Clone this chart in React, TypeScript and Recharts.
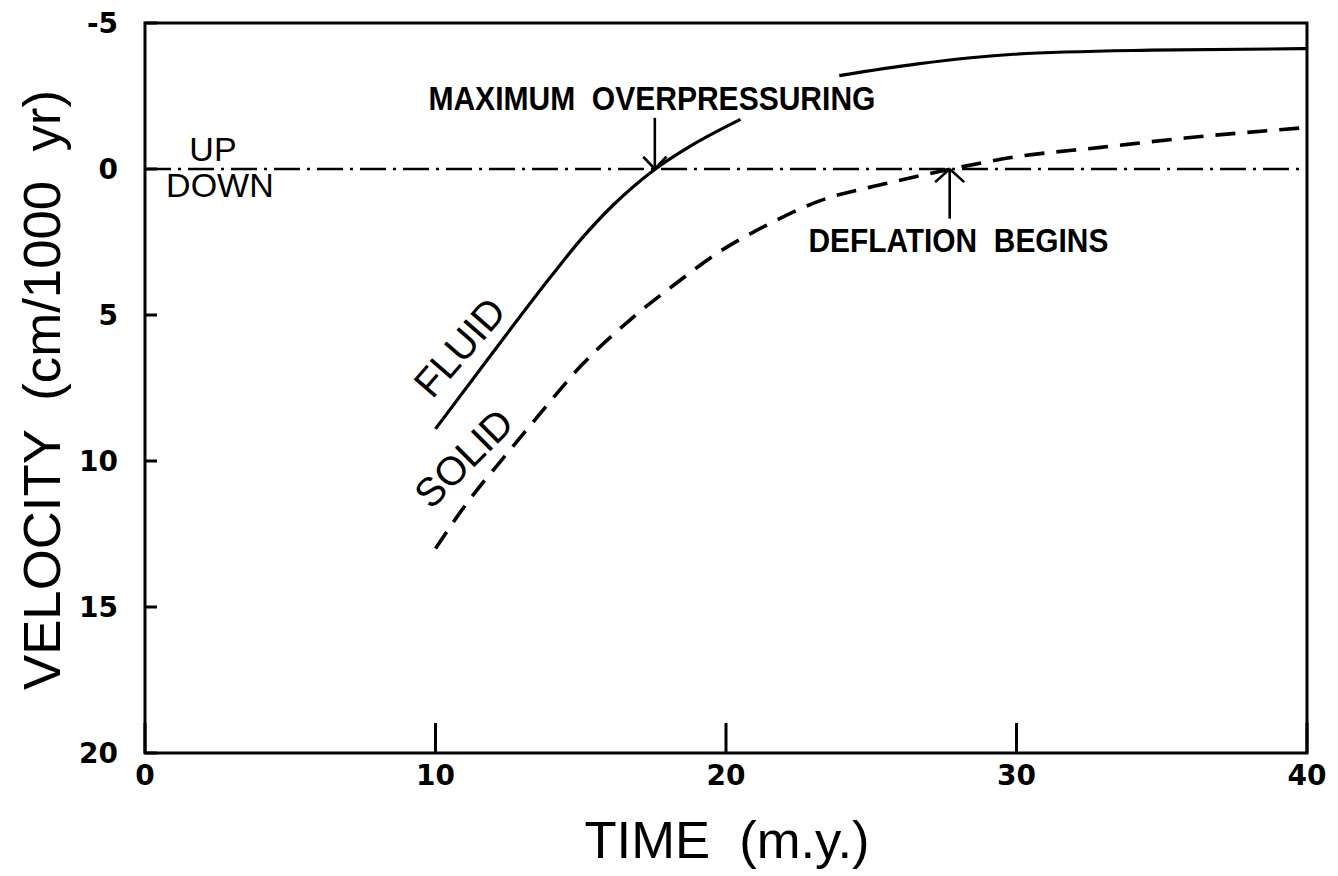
import React from "react";
import {
  LineChart,
  Line,
  XAxis,
  YAxis,
  ReferenceLine,
  ReferenceDot,
  ReferenceArea,
} from "recharts";

// axis ticks
const timeTicks = [0, 10, 20, 30, 40];
const innerTimeTicks = [10, 20, 30];
const velocityTicks = [-5, 0, 5, 10, 15, 20];
const innerVelocityTicks = [5, 10, 15];

// FLUID curve, part below the "maximum overpressuring" label
const fluidTime = [10, 12, 14, 15, 16.1, 17.5, 18.8, 20.5];
const fluidVelocity = [8.9, 6.25, 3.65, 2.42, 1.25, 0.05, -0.8, -1.7];

// FLUID curve, part after the label
const fluidUpperTime = [23.9, 26.6, 29.9, 34.6, 40];
const fluidUpperVelocity = [-3.2, -3.6, -3.93, -4.07, -4.12];

// SOLID curve (dashed)
const solidTime = [10, 11, 12.5, 13.5, 15, 16.8, 18.25, 19.75, 21.35, 23.2, 25.5, 27.75, 30, 32.9, 35.8, 40];
const solidVelocity = [13.0, 11.55, 9.7, 8.5, 6.75, 5.08, 3.94, 2.85, 1.95, 1.1, 0.5, 0.0, -0.42, -0.74, -1.06, -1.42];

const toPoints = (ts: number[], vs: number[]) =>
  ts.map((t, i) => ({ time: t, velocity: vs[i] }));

const fluidLower = toPoints(fluidTime, fluidVelocity);
const fluidUpper = toPoints(fluidUpperTime, fluidUpperVelocity);
const solid = toPoints(solidTime, solidVelocity);

const INK = "#000";
const tickFont = {
  fill: INK,
  fontSize: 28,
  fontFamily: "DejaVu Sans",
  fontWeight: 700,
};
const tickStroke = { stroke: INK, strokeWidth: 3 };

// text placed at a data point through a ReferenceDot
function note(text: string, size: number, weight: number, len?: number, angle = 0) {
  return (p: any) => (
    <text
      x={p.cx}
      y={p.cy}
      textAnchor="middle"
      dominantBaseline="central"
      fontSize={size}
      fontWeight={weight}
      fontFamily="Liberation Sans"
      fill={INK}
      textLength={len}
      lengthAdjust={len ? "spacingAndGlyphs" : undefined}
      style={{ whiteSpace: "pre" }}
      transform={angle ? `rotate(${angle} ${p.cx} ${p.cy})` : undefined}
    >
      {text}
    </text>
  );
}

type Seg = [number, number, number, number];
const arrowSegs: Seg[] = [
  // maximum overpressuring (down arrow)
  [17.55, -1.75, 17.55, 0],
  [17.15, -0.42, 17.55, 0],
  [17.95, -0.42, 17.55, 0],
  // deflation begins (up arrow)
  [27.7, 1.7, 27.7, 0],
  [27.2, 0.45, 27.7, 0],
  [28.2, 0.45, 27.7, 0],
];

const yTitle = () => (
  <text
    x={42}
    y={390}
    textAnchor="middle"
    dominantBaseline="central"
    fontSize={52}
    fontFamily="Liberation Sans"
    fill={INK}
    textLength={600}
    lengthAdjust="spacingAndGlyphs"
    style={{ whiteSpace: "pre" }}
    transform="rotate(-90 42 390)"
  >
    VELOCITY  (cm/1000  yr)
  </text>
);

const xTitle = () => (
  <text
    x={727}
    y={840}
    textAnchor="middle"
    dominantBaseline="central"
    fontSize={52}
    fontFamily="Liberation Sans"
    fill={INK}
    textLength={285}
    lengthAdjust="spacingAndGlyphs"
    style={{ whiteSpace: "pre" }}
  >
    TIME  (m.y.)
  </text>
);

export default function App() {
  return (
    <div style={{ position: "absolute", left: 0, top: 0, background: "#fff" }}>
      <LineChart
        width={1338}
        height={876}
        margin={{ top: 22, right: 30, bottom: 0, left: 0 }}
      >
        <XAxis
          dataKey="time"
          type="number"
          domain={[0, 40]}
          ticks={timeTicks}
          allowDataOverflow
          height={123}
          tickSize={-30}
          tickMargin={42}
          tick={tickFont}
          axisLine={false}
          tickLine={tickStroke}
          label={xTitle}
        />
        <XAxis
          xAxisId="top"
          orientation="top"
          type="number"
          domain={[0, 40]}
          ticks={innerTimeTicks}
          height={1}
          tickSize={-30}
          tick={false}
          axisLine={false}
          tickLine={tickStroke}
        />
        <YAxis
          type="number"
          domain={[-5, 20]}
          ticks={velocityTicks}
          reversed
          allowDataOverflow
          width={145}
          tickSize={-12}
          tickMargin={39}
          tick={tickFont}
          axisLine={false}
          tickLine={tickStroke}
          label={yTitle}
        />
        <YAxis
          yAxisId="right"
          orientation="right"
          type="number"
          domain={[-5, 20]}
          ticks={innerVelocityTicks}
          reversed
          width={1}
          tickSize={-12}
          tick={false}
          axisLine={false}
          tickLine={tickStroke}
        />

        <ReferenceArea
          x1={0}
          x2={40}
          y1={-5}
          y2={20}
          fill="none"
          fillOpacity={0}
          stroke={INK}
          strokeWidth={3}
          strokeOpacity={1}
          ifOverflow="visible"
        />

        <ReferenceLine
          y={0}
          stroke={INK}
          strokeWidth={2.4}
          strokeDasharray="26 7 3 7"
        />

        <Line
          data={fluidLower}
          dataKey="velocity"
          type="monotone"
          stroke={INK}
          strokeWidth={3.2}
          dot={false}
          isAnimationActive={false}
        />
        <Line
          data={fluidUpper}
          dataKey="velocity"
          type="monotone"
          stroke={INK}
          strokeWidth={3.2}
          dot={false}
          isAnimationActive={false}
        />
        <Line
          data={solid}
          dataKey="velocity"
          type="monotone"
          stroke={INK}
          strokeWidth={3.6}
          strokeDasharray="20 12"
          dot={false}
          isAnimationActive={false}
        />

        {arrowSegs.map((s, i) => (
          <ReferenceLine
            key={i}
            segment={[
              { x: s[0], y: s[1] },
              { x: s[2], y: s[3] },
            ]}
            stroke={INK}
            strokeWidth={2.6}
          />
        ))}

        <ReferenceDot x={17.45} y={-2.4} r={0} shape={note("MAXIMUM  OVERPRESSURING", 33, 700, 447)} />
        <ReferenceDot x={28.0} y={2.46} r={0} shape={note("DEFLATION  BEGINS", 33, 700, 300)} />
        <ReferenceDot x={2.34} y={-0.7} r={0} shape={note("UP", 34, 400)} />
        <ReferenceDot x={2.58} y={0.54} r={0} shape={note("DOWN", 34, 400)} />
        <ReferenceDot x={10.83} y={6.1} r={0} shape={note("FLUID", 40, 400, undefined, -49)} />
        <ReferenceDot x={10.97} y={9.9} r={0} shape={note("SOLID", 40, 400, undefined, -45)} />
      </LineChart>
    </div>
  );
}
